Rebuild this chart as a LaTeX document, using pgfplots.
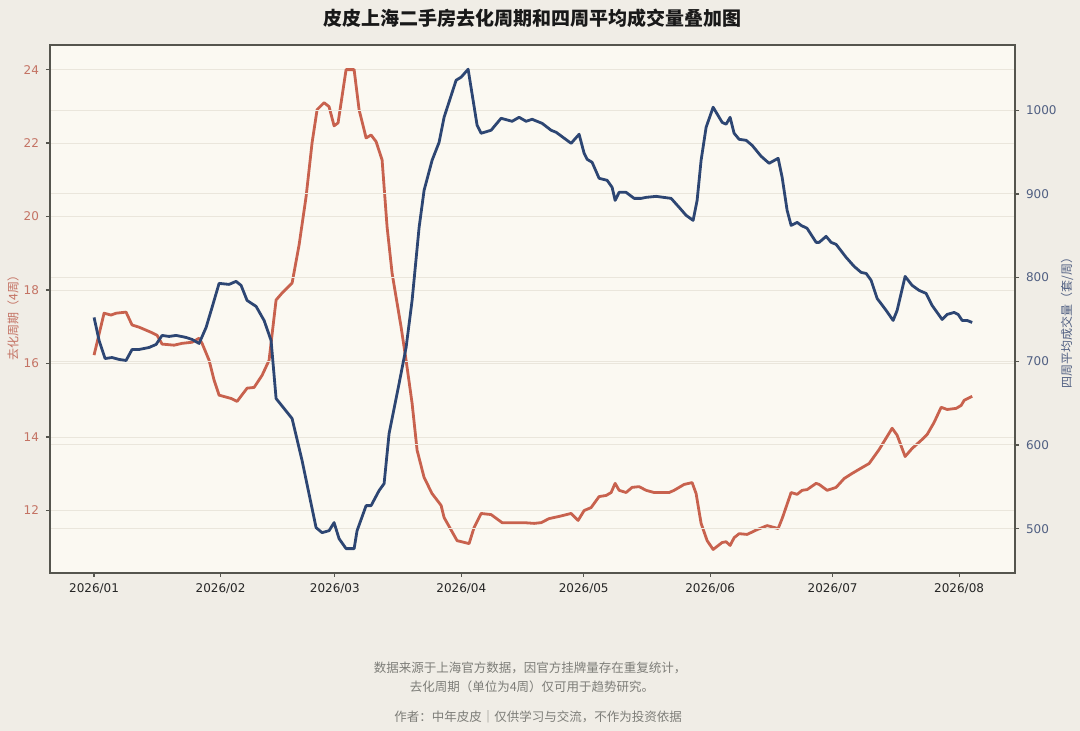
\documentclass[border=0pt]{standalone}
\usepackage{pgfplots}
\pgfplotsset{compat=1.18}
\usepackage{fontspec}
\setmainfont{DejaVu Sans}
\newfontfamily\cjk{Noto Sans CJK SC}
\definecolor{bgout}{RGB}{240,237,230}
\definecolor{bgin}{RGB}{251,249,242}
\definecolor{redl}{RGB}{200,98,78}
\definecolor{bluel}{RGB}{45,70,115}
\definecolor{redt}{RGB}{196,115,100}
\definecolor{bluet}{RGB}{80,95,130}
\definecolor{gridc}{RGB}{234,230,220}
\definecolor{framec}{RGB}{85,85,78}
\definecolor{foot}{RGB}{125,125,120}
\begin{document}
\begin{tikzpicture}
\path[use as bounding box, fill=bgout] (0,0) rectangle (540pt,365.5pt);
\pgfplotsset{
  common/.style={
    scale only axis, width=482.5pt, height=264pt,
    at={(25pt,79pt)}, anchor=south west,
    xmin=-10.8, xmax=225.7,
    axis line style={framec, line width=0.75pt},
    tick style={framec, line width=0.6pt},
    tick align=outside, major tick length=2pt,
    /pgf/number format/assume math mode=true,
    /pgf/number format/1000 sep={},
    ticklabel style={font=\fontsize{6}{7}\selectfont},
    ymajorgrids, grid style={gridc, line width=0.5pt},
  }
}
\begin{axis}[common,
  axis background/.style={fill=bgin},
  ymin=10.3, ymax=24.67,
  ytick={12,14,16,18,20,22,24},
  xtick={0,31,59,90,120,151,181,212},
  xticklabels={2026/01,2026/02,2026/03,2026/04,2026/05,2026/06,2026/07,2026/08},
  xtick pos=left, ytick pos=left,
  yticklabel style={text=redt},
  xticklabel style={text=black!85},
  ylabel={\cjk 去化周期（4周）},
  ylabel style={at={(axis description cs:-0.0383,0.489)}, anchor=center, text=redt, font=\fontsize{6}{7}\selectfont},
]
\addplot[redl, line width=1.4pt, line join=round, mark=none] coordinates {
(0,16.23) (2.45,17.37) (4.17,17.32) (5.39,17.37) (7.84,17.40) (9.31,17.05) (11.03,16.99) (13.97,16.85) (15.44,16.77) (16.67,16.53) (19.61,16.50) (21.57,16.55) (24.02,16.58) (25.74,16.69) (26.47,16.55) (28.19,16.09) (29.41,15.55) (30.64,15.14) (33.58,15.05) (35.05,14.97) (37.5,15.33) (39.22,15.35) (41.18,15.68) (42.89,16.09) (44.61,17.73) (46.08,17.92) (48.53,18.19) (50.25,19.23) (51.96,20.54) (53.43,22.01) (54.66,22.91) (56.37,23.10) (57.6,22.99) (58.82,22.47) (59.8,22.55) (61.76,24.0) (63.73,24.0) (64.95,22.91) (66.67,22.14) (67.89,22.22) (69.12,22.04) (70.59,21.54) (71.81,19.72) (73.04,18.46) (75.25,16.99) (76.47,16.09) (77.94,14.92) (79.17,13.64) (80.88,12.90) (82.84,12.46) (85.05,12.14) (85.78,11.81) (88.97,11.18) (91.91,11.10) (93.14,11.54) (94.85,11.92) (97.3,11.89) (100.0,11.67) (102.45,11.67) (105.39,11.67) (107.84,11.65) (109.56,11.67) (111.52,11.78) (113.97,11.84) (116.91,11.92) (118.63,11.73) (120.1,12.0) (121.81,12.08) (123.77,12.38) (125.49,12.41) (126.72,12.49) (127.7,12.74) (128.68,12.55) (130.39,12.49) (131.86,12.63) (133.58,12.65) (135.29,12.55) (137.25,12.49) (140.93,12.49) (142.16,12.55) (144.61,12.71) (146.57,12.76) (147.55,12.46) (148.77,11.65) (150.25,11.18) (151.72,10.94) (153.92,11.13) (154.9,11.15) (155.88,11.05) (156.86,11.26) (158.09,11.37) (160.05,11.35) (162.5,11.48) (164.95,11.59) (167.65,11.51) (168.63,11.78) (170.83,12.49) (172.3,12.44) (173.53,12.55) (174.75,12.57) (176.96,12.74) (177.7,12.71) (179.66,12.55) (181.86,12.63) (183.82,12.87) (185.78,13.01) (188.24,13.17) (189.95,13.28) (192.4,13.66) (195.59,14.24) (196.81,14.05) (198.77,13.47) (200.49,13.69) (202.7,13.91) (204.17,14.07) (205.88,14.40) (207.6,14.81) (209.07,14.75) (211.27,14.78) (212.5,14.86) (213.24,15.00) (215.2,15.11)
};
\end{axis}
\begin{axis}[common,
  hide x axis,
  ymin=447, ymax=1078,
  ytick={500,600,700,800,900,1000},
  ytick pos=right, yticklabel pos=right,
  yticklabel style={text=bluet},
  ylabel={\cjk 四周平均成交量（套/周）},
  ylabel style={at={(axis description cs:1.054,0.479)}, anchor=center, text=bluet, font=\fontsize{6}{7}\selectfont},
]
\addplot[bluel, line width=1.4pt, line join=round, mark=none] coordinates {
(0,752.4) (1.23,724.9) (2.7,703.3) (4.41,704.5) (6.13,702.2) (7.84,701.0) (9.31,714.1) (11.03,714.1) (13.48,716.5) (15.2,720.1) (16.67,730.9) (18.38,729.7) (20.1,730.9) (22.55,728.5) (24.02,726.1) (25.74,721.3) (27.45,740.4) (28.92,764.4) (30.64,793.1) (33.09,791.9) (34.8,795.5) (36.03,790.7) (37.5,772.7) (39.71,765.6) (41.67,748.8) (43.38,724.9) (44.61,655.5) (48.53,631.6) (50.98,581.3) (54.41,501.2) (55.88,495.2) (57.6,497.6) (58.82,507.2) (60.05,488.0) (61.76,476.1) (63.73,476.1) (64.46,497.6) (66.67,527.5) (67.89,527.5) (69.85,545.5) (71.08,553.8) (72.3,613.6) (74.75,673.4) (76.47,716.5) (77.94,772.7) (79.66,860.0) (80.88,904.3) (82.84,940.2) (84.56,961.7) (85.78,991.6) (88.73,1035.9) (89.95,1039.5) (91.67,1049.0) (92.89,1012.0) (93.87,982.1) (94.85,972.5) (97.3,976.1) (99.75,990.4) (102.45,986.8) (104.17,991.6) (105.88,986.8) (107.35,989.2) (109.8,984.4) (112.01,976.1) (113.24,973.7) (116.91,960.5) (118.87,971.3) (120.1,948.6) (120.83,941.4) (122.06,937.8) (123.77,918.7) (125.74,916.3) (126.96,907.9) (127.7,892.3) (128.68,901.9) (130.39,901.9) (132.35,894.7) (134.07,894.7) (135.29,895.9) (137.75,897.1) (141.42,894.7) (143.38,884.0) (145.1,874.4) (146.81,868.4) (147.79,892.3) (148.77,940.2) (150.0,979.7) (151.72,1003.6) (153.92,985.6) (154.9,983.3) (155.88,991.6) (156.86,972.5) (158.09,965.3) (159.8,964.1) (161.27,958.1) (163.48,945.0) (165.44,936.6) (167.65,942.6) (168.63,919.9) (169.85,880.4) (170.83,862.4) (172.3,866.0) (173.28,862.4) (174.75,858.9) (176.96,842.1) (177.7,842.1) (179.41,849.3) (180.64,842.1) (181.86,839.7) (184.31,824.2) (186.27,813.4) (187.99,806.2) (189.22,805.0) (190.44,796.7) (191.91,775.1) (194.12,760.8) (195.83,748.8) (196.81,760.8) (198.77,801.4) (200.49,790.7) (202.21,784.7) (203.92,781.1) (205.39,766.7) (207.84,750.0) (209.07,756.0) (210.78,758.4) (211.76,756.0) (212.75,748.8) (213.97,748.8) (215.2,746.4)
};
\end{axis}
\node[font=\cjk\bfseries\fontsize{9.5}{11}\selectfont, text=black!90] at (266pt,356.5pt) {皮皮上海二手房去化周期和四周平均成交量叠加图};
\node[font=\cjk\fontsize{6.25}{7}\selectfont, text=foot] at (265pt,31.5pt) {数据来源于上海官方数据，因官方挂牌量存在重复统计，};
\node[font=\cjk\fontsize{6.25}{7}\selectfont, text=foot] at (266pt,22pt) {去化周期（单位为4周）仅可用于趋势研究。};
\node[font=\cjk\fontsize{6.25}{7}\selectfont, text=foot] at (269pt,7pt) {作者：中年皮皮｜仅供学习与交流，不作为投资依据};
\end{tikzpicture}
\end{document}
